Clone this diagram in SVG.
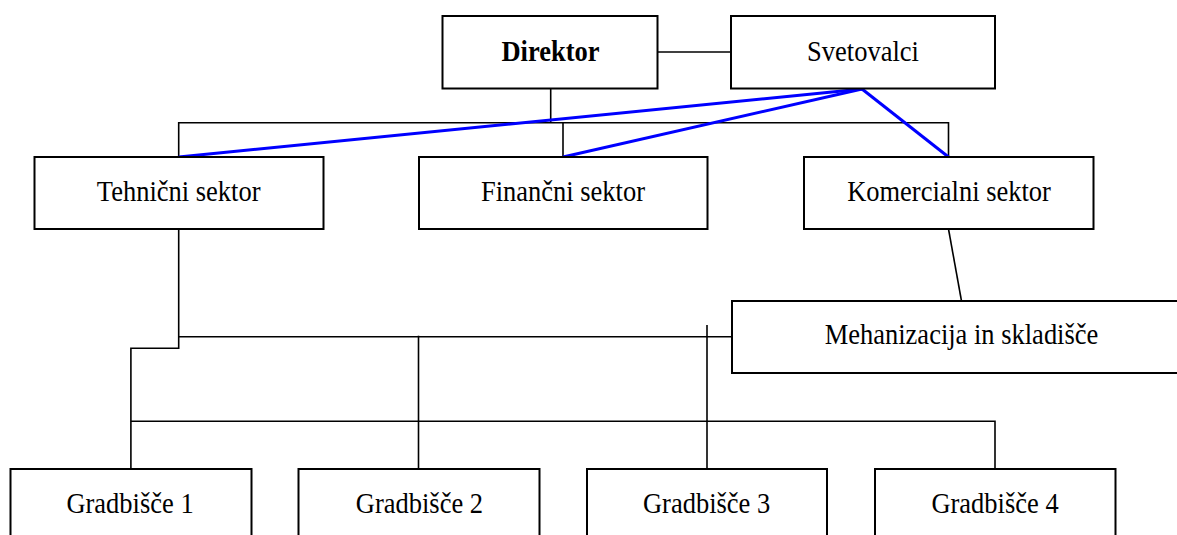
<svg xmlns="http://www.w3.org/2000/svg" width="1177" height="535" viewBox="0 0 1177 535">
<style>
.box{fill:#fff;stroke:#000;stroke-width:2}
.ln{fill:none;stroke:#000;stroke-width:1.6}
.bl{fill:none;stroke:#0000ff;stroke-width:3}
.t{font-family:"Liberation Serif","Times New Roman",serif;font-size:26.5px;fill:#000;text-anchor:middle}
.b{font-weight:bold}
</style>
<rect width="1177" height="535" fill="#fff"/>
<g id="connectors">
<line class="ln" x1="657" y1="52" x2="731" y2="52"/>
<polyline class="ln" points="550.7,89 550.7,122.7"/>
<polyline class="ln" points="178.7,157 178.7,122.7 948.5,122.7 948.5,157"/>
<line class="ln" x1="563" y1="122.7" x2="563" y2="157"/>
<polyline class="ln" points="178.7,229 178.7,348.3 130.9,348.3 130.9,469"/>
<line class="ln" x1="178.7" y1="336.7" x2="732" y2="336.7"/>
<line class="ln" x1="418.5" y1="335.7" x2="418.5" y2="469"/>
<line class="ln" x1="707" y1="325" x2="707" y2="469"/>
<polyline class="ln" points="130.9,421.3 995,421.3 995,469"/>
<line class="ln" x1="948.5" y1="229" x2="961.5" y2="301"/>
<line class="bl" x1="862" y1="89" x2="178.7" y2="157"/>
<line class="bl" x1="862" y1="89" x2="563" y2="157"/>
<line class="bl" x1="862" y1="89" x2="948.5" y2="157"/>
</g>
<g id="direktor"><rect class="box" x="442.5" y="16" width="215" height="72.5"/><text class="t b" transform="translate(550.5,61) scale(1,1.1)">Direktor</text></g>
<g id="svetovalci"><rect class="box" x="731" y="16" width="264" height="72.5"/><text class="t" transform="translate(863,61) scale(1,1.1)">Svetovalci</text></g>
<g id="tehnicni"><rect class="box" x="34.5" y="157" width="289" height="72"/><text class="t" transform="translate(178.7,200.7) scale(1,1.1)">Tehnični sektor</text></g>
<g id="financni"><rect class="box" x="419" y="157" width="288.5" height="72"/><text class="t" transform="translate(563,200.7) scale(1,1.1)">Finančni sektor</text></g>
<g id="komercialni"><rect class="box" x="804" y="157" width="289.5" height="72"/><text class="t" transform="translate(949,200.7) scale(1,1.1)">Komercialni sektor</text></g>
<g id="mehanizacija"><rect class="box" x="732" y="301" width="460" height="72"/><text class="t" transform="translate(961.5,344.3) scale(1,1.1)">Mehanizacija in skladišče</text></g>
<g id="gradbisce1"><rect class="box" x="10.5" y="469" width="241" height="80"/><text class="t" transform="translate(130,512.7) scale(1,1.1)">Gradbišče 1</text></g>
<g id="gradbisce2"><rect class="box" x="298.5" y="469" width="241" height="80"/><text class="t" transform="translate(419.4,512.7) scale(1,1.1)">Gradbišče 2</text></g>
<g id="gradbisce3"><rect class="box" x="587" y="469" width="240" height="80"/><text class="t" transform="translate(706.6,512.7) scale(1,1.1)">Gradbišče 3</text></g>
<g id="gradbisce4"><rect class="box" x="875" y="469" width="240.5" height="80"/><text class="t" transform="translate(995,512.7) scale(1,1.1)">Gradbišče 4</text></g>
</svg>
